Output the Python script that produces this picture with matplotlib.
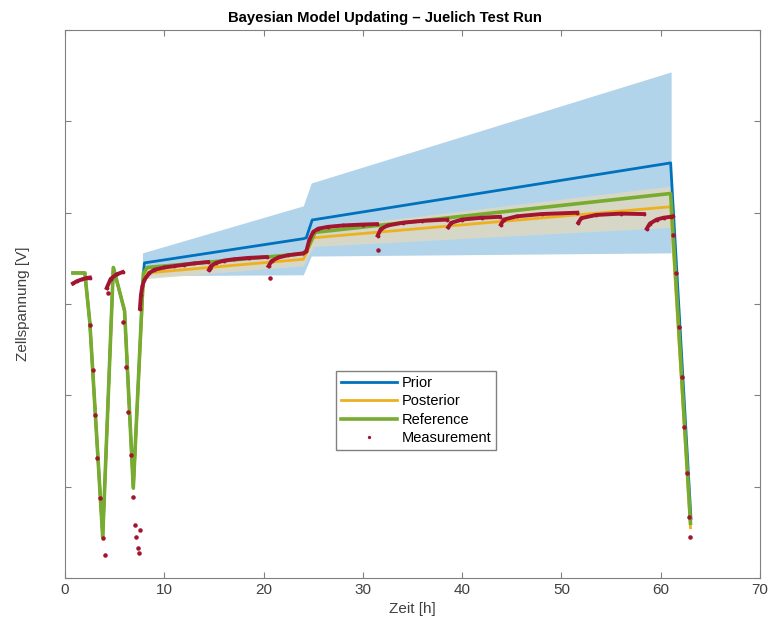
import matplotlib
matplotlib.use('Agg')
import matplotlib.pyplot as plt

plt.rcParams['font.family'] = ['Liberation Sans', 'DejaVu Sans']

# Prior (blue) uncertainty band
band_t = [7.8, 24.0, 24.8, 61.0, 61.05]
band_hi = [3.712, 3.815, 3.865, 4.108, 4.108]
band_lo = [3.662, 3.664, 3.705, 3.712, 3.712]

# Posterior uncertainty band
post_band_t = [7.8, 24.0, 24.4, 25.0, 61.0]
post_band_hi = [3.680, 3.712, 3.73, 3.765, 3.858]
post_band_lo = [3.655, 3.684, 3.70, 3.726, 3.768]

# Model curves [h], [V]
prior_t = [0.8, 2.0, 2.5, 3.8, 4.87, 6.0, 6.88, 7.9, 8.0, 24.0, 24.3, 24.9, 61.0, 63.05]
prior_v = [3.668, 3.668, 3.56, 3.09, 3.68, 3.585, 3.197, 3.668, 3.690, 3.743, 3.745, 3.784, 3.909, 3.13]

post_t = [0.8, 2.0, 2.5, 3.8, 4.87, 6.0, 6.88, 7.9, 8.2, 24.0, 24.5, 25.0, 61.0, 63.0]
post_v = [3.668, 3.668, 3.56, 3.09, 3.68, 3.585, 3.197, 3.650, 3.668, 3.698, 3.72, 3.745, 3.813, 3.11]

ref_t = [0.8, 2.0, 2.5, 3.8, 4.87, 6.0, 6.88, 7.9, 8.3, 24.0, 24.4, 25.2, 61.0, 63.0]
ref_v = [3.668, 3.668, 3.56, 3.09, 3.68, 3.585, 3.197, 3.668, 3.680, 3.710, 3.72, 3.757, 3.842, 3.12]

# Measurement: rest phases (dense, drawn as curves)
rest_t = [
    [0.8, 1.2, 1.7, 2.2, 2.5],
    [4.2, 4.6, 5.2, 5.8],
    [7.55, 7.65, 7.8, 8.0, 8.5, 9.0, 10, 11, 12, 13, 14.4],
    [14.5, 14.7, 15.2, 16, 17, 18.5, 20.3],
    [20.5, 20.8, 21.5, 22.5, 24.0, 24.3, 24.6, 25.0, 25.5, 26.5, 28, 30, 31.4],
    [31.5, 31.8, 32.5, 34, 36, 38.5],
    [38.6, 38.9, 40, 42, 43.8],
    [43.9, 44.2, 45.5, 48, 51.6],
    [51.7, 52.0, 53.5, 56, 58.3],
    [58.6, 58.9, 59.6, 60.3, 61.0, 61.2],
]
rest_v = [
    [3.645, 3.650, 3.654, 3.657, 3.658],
    [3.635, 3.655, 3.665, 3.670],
    [3.59, 3.62, 3.640, 3.653, 3.668, 3.675, 3.680, 3.683, 3.686, 3.689, 3.692],
    [3.675, 3.683, 3.690, 3.695, 3.698, 3.701, 3.703],
    [3.683, 3.694, 3.702, 3.707, 3.711, 3.715, 3.74, 3.758, 3.765, 3.769, 3.772, 3.774, 3.775],
    [3.750, 3.764, 3.772, 3.778, 3.782, 3.785],
    [3.768, 3.778, 3.785, 3.789, 3.791],
    [3.774, 3.785, 3.792, 3.797, 3.800],
    [3.778, 3.788, 3.795, 3.798, 3.797],
    [3.765, 3.776, 3.785, 3.789, 3.791, 3.792],
]

# Measurement: discharge phases (sparse dots)
dis_t = [2.52, 2.79, 3.02, 3.25, 3.52, 3.79, 4.03, 4.3,
         5.87, 6.14, 6.31, 6.61, 6.88, 7.05, 7.15, 7.55, 7.38, 7.48,
         14.6, 20.6, 31.5,
         61.25, 61.5, 61.8, 62.1, 62.3, 62.6, 62.8, 62.95]
dis_v = [3.554, 3.456, 3.357, 3.263, 3.175, 3.088, 3.050, 3.624,
         3.561, 3.463, 3.364, 3.269, 3.178, 3.116, 3.09, 3.105, 3.066, 3.055,
         3.679, 3.657, 3.718,
         3.752, 3.668, 3.55, 3.44, 3.33, 3.23, 3.134, 3.09]

c_prior = '#0072BD'
c_post = '#EDB120'
c_ref = '#77AC30'
c_meas = '#A2142F'

fig = plt.figure(figsize=(7.7, 6.28), dpi=100)
ax = fig.add_axes([0.0844, 0.0796, 0.9026, 0.8726])

ax.fill_between(band_t, band_lo, band_hi, color=c_prior, alpha=0.3, lw=0)
ax.fill_between(post_band_t, post_band_lo, post_band_hi, color='#dcd8c4', alpha=0.9, lw=0)

ax.plot(prior_t, prior_v, color=c_prior, lw=2.0, label='Prior')
ax.plot(post_t, post_v, color=c_post, lw=2.0, label='Posterior')
ax.plot(ref_t, ref_v, color=c_ref, lw=2.6, label='Reference')

for t, v in zip(rest_t, rest_v):
    ax.plot(t, v, color=c_meas, lw=2.8, marker='.', ms=3.5)
ax.plot(dis_t, dis_v, ls='none', marker='.', ms=4.5, color=c_meas, label='Measurement')

ax.set_xlim(0, 70)
ax.set_ylim(3.0, 4.2)
ax.set_xticks(range(0, 71, 10))
ax.set_yticks([3.0, 3.2, 3.4, 3.6, 3.8, 4.0, 4.2])
ax.set_yticklabels([])
ax.tick_params(direction='in', top=True, right=True, length=4, colors='#808080',
               labelcolor='#404040', labelsize=11)
for s in ax.spines.values():
    s.set_color('#808080')

ax.set_title('Bayesian Model Updating – Juelich Test Run', fontsize=10.7,
             fontweight='bold', x=0.46)
ax.set_xlabel('Zeit [h]', fontsize=11, color='#404040')
ax.set_ylabel('Zellspannung [V]', fontsize=11, color='#404040', labelpad=22)

leg = ax.legend(loc='lower left', bbox_to_anchor=(0.38, 0.22), fontsize=10.5,
                fancybox=False, edgecolor='#808080', framealpha=1, handlelength=3.8,
                borderpad=0.35, labelspacing=0.3, handletextpad=0.3, markerscale=0.6)

fig.savefig('out.png', dpi=100)
